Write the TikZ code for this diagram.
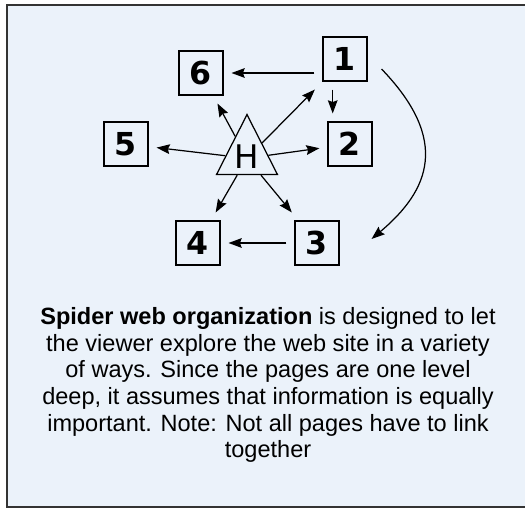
\documentclass[tikz,border=0pt]{standalone}
\usepackage{fontspec}
\setmainfont{Liberation Sans}
\newfontfamily\pagefont{DejaVu Sans}
\usetikzlibrary{arrows.meta,shapes.geometric}
\definecolor{panelblue}{RGB}{235,242,250}

\begin{document}
\begin{tikzpicture}[x=0.02cm,y=-0.02cm,
  page/.style={rectangle, draw, line width=0.9pt, minimum size=0.87cm, inner sep=0pt, outer sep=5pt, font=\pagefont\bfseries\fontsize{18}{18}\selectfont},
  link/.style={-{Stealth[length=7.5pt,width=5.5pt,inset=1pt]}, line width=0.7pt}]
  \useasboundingbox (0,0) rectangle (525,510);
  \fill[panelblue] (7,5) rectangle (525,507);
  \draw[line width=1.1pt, black!80] (525,5) -- (7,5) -- (7,507) -- (525,507);

  % home page and the six pages round it
  \node (hub) [isosceles triangle, isosceles triangle stretches, shape border rotate=90, draw, line width=0.7pt, minimum width=1.22cm, minimum height=1.2cm, inner sep=0pt, anchor=apex, font=\pagefont\fontsize{18.5}{18.5}\selectfont] at (247,113) {\raisebox{2pt}{H}};
  \node (n1) [page] at (345,59) {1};
  \node (n2) [page] at (350,144) {2};
  \node (n3) [page] at (317,243) {3};
  \node (n4) [page] at (198,243) {4};
  \node (n5) [page] at (126,144) {5};
  \node (n6) [page] at (201,73) {6};

  \draw[link] (hub) -- (n1);
  \draw[link] (hub) -- (n2);
  \draw[link] (hub) -- (n3);
  \draw[link] (hub) -- (n4);
  \draw[link] (hub) -- (n5);
  \draw[link] (hub) -- (n6);
  \draw[link] (n1.west |- n6.east) -- (n6.east);
  \draw[link] ([xshift=-7]n1.south) -- ([xshift=-7]n1.south |- n2.north);
  \draw[link] (n3) -- (n4);
  \draw[link] ([shift={(6,10)}]n1.east) .. controls (450,140) and (430,190) .. ([shift={(24,-4)}]n3.east);

  \node (note) [align=center, font=\fontsize{13.4}{15.2}\selectfont] at (268,385)
    {\textbf{Spider web organization} is designed to let\\
     the viewer explore the web site in a variety\\
     of ways. Since the pages are one level\\
     deep, it assumes that information is equally\\
     important. Note: Not all pages have to link\\
     together};
\end{tikzpicture}
\end{document}
